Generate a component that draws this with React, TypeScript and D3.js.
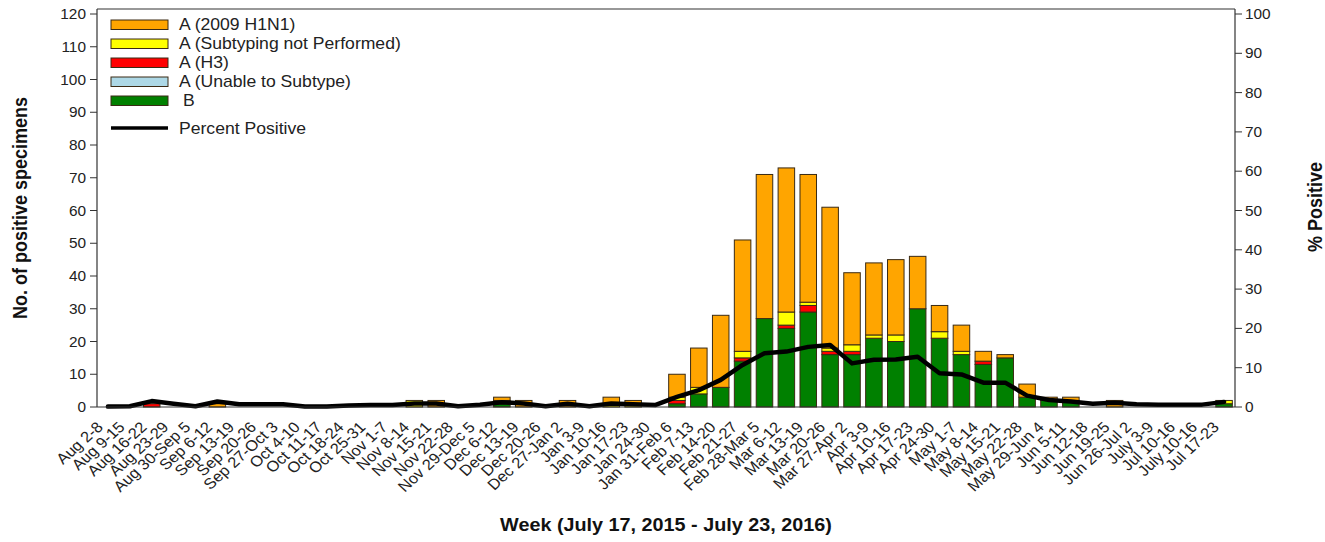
import React from 'react';
import * as d3 from 'd3';

// weekly labels, Aug 2015 - Jul 2016
const weeks = [
  'Aug 2-8', 'Aug 9-15', 'Aug 16-22', 'Aug 23-29', 'Aug 30-Sep 5', 'Sep 6-12', 'Sep 13-19',
  'Sep 20-26', 'Sep 27-Oct 3', 'Oct 4-10', 'Oct 11-17', 'Oct 18-24', 'Oct 25-31', 'Nov 1-7',
  'Nov 8-14', 'Nov 15-21', 'Nov 22-28', 'Nov 29-Dec 5', 'Dec 6-12', 'Dec 13-19', 'Dec 20-26',
  'Dec 27-Jan 2', 'Jan 3-9', 'Jan 10-16', 'Jan 17-23', 'Jan 24-30', 'Jan 31-Feb 6', 'Feb 7-13',
  'Feb 14-20', 'Feb 21-27', 'Feb 28-Mar 5', 'Mar 6-12', 'Mar 13-19', 'Mar 20-26', 'Mar 27-Apr 2',
  'Apr 3-9', 'Apr 10-16', 'Apr 17-23', 'Apr 24-30', 'May 1-7', 'May 8-14', 'May 15-21',
  'May 22-28', 'May 29-Jun 4', 'Jun 5-11', 'Jun 12-18', 'Jun 19-25', 'Jun 26-Jul 2', 'July 3-9',
  'Jul 10-16', 'July 10-16', 'Jul 17-23',
];

const fluB = [
  0, 0, 0, 0, 0, 0, 0, 0, 0, 0, 0, 0, 0, 0, 0, 0, 0, 0, 1, 0, 0, 0, 0, 0, 0, 0,
  1, 4, 6, 14, 27, 24, 29, 16, 16, 21, 20, 30, 21, 16, 13, 15, 3, 2, 2, 0, 0, 0, 0, 0, 0, 1,
];
const aUnable = [
  0, 0, 0, 0, 0, 0, 0, 0, 0, 0, 0, 0, 0, 0, 0, 0, 0, 0, 0, 0, 0, 0, 0, 0, 0, 0,
  0, 0, 0, 0, 0, 0, 0, 0, 0, 0, 0, 0, 0, 0, 0, 0, 0, 0, 0, 0, 0, 0, 0, 0, 0, 0,
];
const aH3 = [
  0, 0, 1, 0, 0, 0, 0, 0, 0, 0, 0, 0, 0, 0, 0, 0, 0, 0, 0, 0, 0, 0, 0, 0, 0, 0,
  1, 0, 0, 1, 0, 1, 2, 1, 1, 0, 0, 0, 0, 0, 1, 0, 0, 0, 0, 0, 0, 0, 0, 0, 0, 0,
];
const aNotSubtyped = [
  0, 0, 0, 0, 0, 0, 0, 0, 0, 0, 0, 0, 0, 0, 2, 0, 0, 0, 1, 0, 0, 0, 0, 1, 1, 0,
  1, 2, 0, 2, 0, 4, 1, 1, 2, 1, 2, 0, 2, 1, 0, 0, 0, 0, 0, 0, 0, 0, 0, 0, 0, 1,
];
const aH1N1 = [
  0, 0, 0, 0, 0, 1, 0, 0, 0, 0, 0, 0, 0, 0, 0, 2, 0, 0, 1, 2, 0, 2, 0, 2, 1, 0,
  7, 12, 22, 34, 44, 44, 39, 43, 22, 22, 23, 16, 8, 8, 3, 1, 4, 1, 1, 0, 2, 0, 0, 0, 0, 0,
];
const pctPositive = [
  0.1, 0.2, 1.5, 0.8, 0.2, 1.4, 0.7, 0.7, 0.7, 0.1, 0.1, 0.4, 0.5, 0.5, 0.9, 0.9, 0.2, 0.6,
  1.2, 0.9, 0.2, 0.8, 0.2, 0.9, 0.7, 0.5, 2.6, 4.3, 6.9, 10.7, 13.7, 14.1, 15.3, 15.8, 11.1,
  12.0, 12.1, 12.8, 8.6, 8.3, 6.2, 6.2, 2.9, 1.8, 1.4, 0.8, 1.1, 0.7, 0.6, 0.6, 0.6, 1.3,
];

const countTicks = [0, 10, 20, 30, 40, 50, 60, 70, 80, 90, 100, 110, 120];
const pctTicks = [0, 10, 20, 30, 40, 50, 60, 70, 80, 90, 100];

// bottom-to-top stacking order
const series = [
  { key: 'B', label: 'B', color: '#008000', values: fluB },
  { key: 'unable', label: 'A (Unable to Subtype)', color: '#ADD8E6', values: aUnable },
  { key: 'h3', label: 'A (H3)', color: '#FF0000', values: aH3 },
  { key: 'notSub', label: 'A (Subtyping not Performed)', color: '#FFFF00', values: aNotSubtyped },
  { key: 'h1n1', label: 'A (2009 H1N1)', color: '#FFA500', values: aH1N1 },
];

const W = 1325;
const H = 542;
const left = 97;
const right = 1235;
const top = 9;
const bottom = 407;
const SX = 1.1; // the source image is a bit wider than tall
const FONT = "'Liberation Sans', Arial, sans-serif";

export default function App() {
  const x = d3.scaleBand<string>()
    .domain(weeks)
    .range([left, right])
    .paddingInner(0.245)
    .paddingOuter(0.1225);
  const y = d3.scaleLinear().domain([0, 120]).range([bottom, 14]);
  const yPct = d3.scaleLinear().domain([0, 100]).range([bottom, 14]);

  const rows = weeks.map((w, i) => {
    const r: Record<string, number | string> = { week: w };
    series.forEach(s => { r[s.key] = s.values[i]; });
    return r;
  });
  const stacked = d3.stack<Record<string, any>>().keys(series.map(s => s.key))(rows);

  const cx = (i: number) => (x(weeks[i]) as number) + x.bandwidth() / 2;
  const pctLine = d3.line<number>()
    .x((_, i) => cx(i))
    .y(d => yPct(d));

  const legend = [...series].reverse();

  return (
    <svg width={W} height={H} style={{ position: 'absolute', left: 0, top: 0, background: '#fff' }} fontFamily={FONT}>
      <rect x={0} y={0} width={W} height={H} fill="#fff" />

      {/* bars */}
      {stacked.map((layer, si) => (
        <g key={series[si].key} fill={series[si].color} stroke="#3a2a14" strokeWidth={1}>
          {layer.map((d, i) => (d[1] - d[0] > 0 ? (
            <rect
              key={i}
              x={x(weeks[i])}
              y={y(d[1])}
              width={x.bandwidth()}
              height={y(d[0]) - y(d[1])}
            />
          ) : null))}
        </g>
      ))}

      {/* percent positive */}
      <path d={pctLine(pctPositive) || ''} fill="none" stroke="#000" strokeWidth={4.5} strokeLinejoin="round" strokeLinecap="round" />

      {/* frame */}
      <g stroke="#333" strokeWidth={1.2} fill="none">
        <line x1={left} x2={right} y1={top} y2={top} />
        <line x1={left} x2={right} y1={bottom} y2={bottom} />
        <line x1={left} x2={left} y1={top} y2={bottom} />
        <line x1={right} x2={right} y1={top} y2={bottom} />
      </g>

      {/* left axis */}
      {countTicks.map(t => (
        <g key={'l' + t}>
          <line x1={left - 7} x2={left} y1={y(t)} y2={y(t)} stroke="#333" />
          <text transform={`translate(${left - 11},${y(t) + 5}) scale(${SX},1)`} textAnchor="end" fontSize={14} fill="#222">{t}</text>
        </g>
      ))}

      {/* right axis */}
      {pctTicks.map(t => (
        <g key={'r' + t}>
          <line x1={right} x2={right + 7} y1={yPct(t)} y2={yPct(t)} stroke="#333" />
          <text transform={`translate(${right + 10},${yPct(t) + 5}) scale(${SX},1)`} fontSize={14} fill="#222">{t}</text>
        </g>
      ))}

      {/* x tick labels */}
      {weeks.map((w, i) => (
        <text
          key={w + i}
          transform={`translate(${cx(i) - 4},428) scale(${SX},1) rotate(-45)`}
          textAnchor="end"
          fontSize={15}
          fill="#222"
        >{w}</text>
      ))}

      {/* axis titles */}
      <text transform={`translate(27,208) scale(${SX},1) rotate(-90)`} textAnchor="middle" fontSize={18} fontWeight="bold" fill="#111">No. of positive specimens</text>
      <text transform={`translate(1322,207) scale(${SX},1) rotate(-90)`} textAnchor="middle" fontSize={18} fontWeight="bold" fill="#111">% Positive</text>
      <text transform={`translate(666,531) scale(${SX},1)`} textAnchor="middle" fontSize={18} fontWeight="bold" fill="#111">Week (July 17, 2015 - July 23, 2016)</text>

      {/* legend */}
      {legend.map((s, i) => (
        <g key={'lg' + s.key}>
          <rect x={111} y={20 + i * 19} width={57} height={9.5} fill={s.color} stroke="#3a2a14" strokeWidth={1} />
          <text transform={`translate(${s.key === 'B' ? 183 : 179},${29.5 + i * 19}) scale(${SX},1)`} fontSize={16} fill="#222">{s.label}</text>
        </g>
      ))}
      <line x1={111} x2={168} y1={128} y2={128} stroke="#000" strokeWidth={3.5} />
      <text transform={`translate(179,134) scale(${SX},1)`} fontSize={16} fill="#222">Percent Positive</text>
    </svg>
  );
}
